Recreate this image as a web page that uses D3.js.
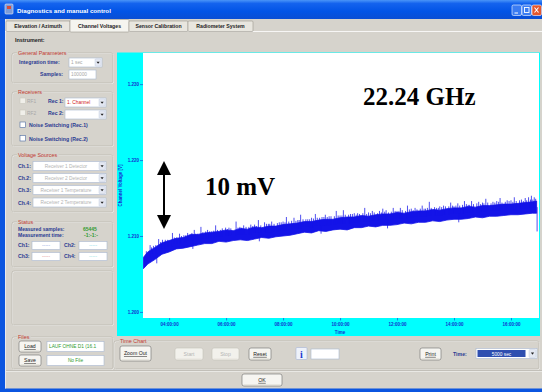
<!DOCTYPE html>
<html><head><meta charset="utf-8">
<script src="https://cdn.jsdelivr.net/npm/d3@7/dist/d3.min.js"></script>
<style>
html,body{margin:0;padding:0;background:#d6d3cc;overflow:hidden}
svg{display:block}
</style></head><body>
<svg id="chart" width="542" height="392"></svg>
<script>
// ---------------- data ----------------
const tabLabels = ["Elevation / Azimuth", "Channel Voltages", "Sensor Calibration", "Radiometer System"];
const timeTickMinutes = [240, 360, 480, 600, 720, 840, 960];
const timeTickLabels = ["04:00:00", "06:00:00", "08:00:00", "10:00:00", "12:00:00", "14:00:00", "16:00:00"];
const voltTicks = [1.200, 1.210, 1.220, 1.230];
const voltTickLabels = ["1.200", "1.210", "1.220", "1.230"];

// measured trace: envelope of the noisy channel voltage (minutes since midnight, volts)
const sampleMinutes = [186,195,210,225,240,255,270,285,300,315,330,345,360,375,390,405,420,435,450,465,480,495,510,525,540,555,570,585,600,615,630,645,660,675,690,705,720,735,750,765,780,795,810,825,840,855,870,885,900,915,930,945,960,975,990,1005,1014];
const upperVolts = [1.2072,1.2079,1.2085,1.2091,1.2094,1.2097,1.2098,1.2102,1.2102,1.2104,1.2105,1.2106,1.2108,1.2107,1.2110,1.2109,1.2112,1.2111,1.2113,1.2113,1.2115,1.2116,1.2117,1.2119,1.2119,1.2121,1.2122,1.2122,1.2124,1.2125,1.2125,1.2127,1.2126,1.2128,1.2129,1.2129,1.2131,1.2130,1.2132,1.2133,1.2133,1.2135,1.2134,1.2136,1.2137,1.2137,1.2139,1.2138,1.2140,1.2140,1.2141,1.2142,1.2142,1.2143,1.2144,1.2145,1.2146];
const lowerVolts = [1.2057,1.2063,1.2069,1.2076,1.2079,1.2083,1.2084,1.2086,1.2088,1.2090,1.2090,1.2093,1.2092,1.2094,1.2095,1.2094,1.2096,1.2098,1.2097,1.2099,1.2100,1.2101,1.2103,1.2105,1.2104,1.2107,1.2106,1.2108,1.2109,1.2108,1.2111,1.2111,1.2113,1.2112,1.2114,1.2114,1.2115,1.2117,1.2116,1.2118,1.2118,1.2120,1.2119,1.2121,1.2122,1.2122,1.2123,1.2125,1.2124,1.2126,1.2126,1.2127,1.2128,1.2128,1.2129,1.2130,1.2130];
// noise spikes (minutes, volts)
const spikeMinutes = [192,200,207,218,226,232,247,256,262,271,279,293,300,307,321,329,338,352,359,366,381,389,397,412,420,428,441,449,456,472,480,487,503,511,517,532,540,548,562,569,577,592,600,607,622,630,637,652,660,668,683,690,697,712,720,727,742,750,758,773,780,788,803,810,818,833,840,848,862,870,877,892,900,907,922,930,937,952,960,967,982,990,997,1003,1009,
  203,212,222,237,251,266,275,288,296,311,317,325,334,342,348,363,370,385,393,402,408,416,424,433,445,452,461,468,476,484,492,498,507,514,522,528,536,544,552,557,566,573,581,588,596,604,611,618,626,634,641,648,656,664,672,679,687,694,702,708,716,724,731,738,746,754,762,769,777,784,792,799,807,814,822,829,837,844,852,858,866,873,881,888,896,903,911,918,926,934,941,948,956,964,971,978,986,993,1001,1006,1012,
  214,290,430,560,700,850,1015];
const spikeVolts = [1.2080,1.2088,1.2087,1.2096,1.2095,1.2095,1.2104,1.2098,1.2103,1.2101,1.2104,1.2108,1.2103,1.2112,1.2108,1.2106,1.2114,1.2110,1.2111,1.2111,1.2119,1.2112,1.2114,1.2115,1.2115,1.2121,1.2118,1.2116,1.2119,1.2118,1.2119,1.2125,1.2124,1.2121,1.2128,1.2122,1.2124,1.2129,1.2125,1.2128,1.2126,1.2133,1.2127,1.2134,1.2129,1.2130,1.2130,1.2137,1.2131,1.2133,1.2133,1.2136,1.2134,1.2137,1.2133,1.2137,1.2140,1.2136,1.2137,1.2140,1.2136,1.2145,1.2137,1.2139,1.2140,1.2144,1.2139,1.2143,1.2146,1.2141,1.2146,1.2145,1.2144,1.2149,1.2145,1.2146,1.2150,1.2147,1.2147,1.2151,1.2148,1.2150,1.2151,1.2153,1.2151,
  1.2085,1.2088,1.2092,1.2095,1.2098,1.2100,1.2101,1.2104,1.2103,1.2105,1.2106,1.2106,1.2107,1.2108,1.2108,1.2109,1.2110,1.2111,1.2111,1.2112,1.2112,1.2113,1.2113,1.2114,1.2116,1.2116,1.2116,1.2117,1.2118,1.2118,1.2119,1.2120,1.2120,1.2121,1.2122,1.2122,1.2122,1.2123,1.2124,1.2124,1.2125,1.2125,1.2126,1.2126,1.2127,1.2127,1.2128,1.2128,1.2129,1.2128,1.2129,1.2130,1.2129,1.2130,1.2131,1.2130,1.2131,1.2132,1.2131,1.2132,1.2133,1.2133,1.2134,1.2133,1.2135,1.2134,1.2135,1.2136,1.2136,1.2137,1.2137,1.2138,1.2137,1.2138,1.2139,1.2139,1.2140,1.2140,1.2140,1.2141,1.2142,1.2141,1.2142,1.2143,1.2142,1.2143,1.2144,1.2143,1.2144,1.2145,1.2144,1.2145,1.2146,1.2145,1.2146,1.2147,1.2146,1.2147,1.2148,1.2148,1.2149,
  1.2064,1.2083,1.2093,1.2103,1.2110,1.2118,1.2106];

// ---------------- drawing ----------------
const W = 542, H = 392;
const svg = d3.select("#chart");
const SANS = "'Liberation Sans', Arial, sans-serif";
const SERIF = "'Liberation Serif', 'Times New Roman', serif";
const BLUE_LBL = "#2a3a92", RED_LBL = "#c23a32", GREEN = "#2f9a2f", GRAYTXT = "#a8a8a8";
const AXIS = "#1530d0";

function T(x, y, s, o = {}) {
  return svg.append("text").attr("x", x).attr("y", y).text(s)
    .attr("font-size", o.size || 5.2).attr("font-weight", o.weight || "bold")
    .attr("fill", o.fill || BLUE_LBL).attr("text-anchor", o.anchor || "start")
    .attr("font-family", o.family || SANS);
}
function R(x, y, w, h, fill, stroke, sw, rx) {
  return svg.append("rect").attr("x", x).attr("y", y).attr("width", w).attr("height", h)
    .attr("fill", fill || "none").attr("stroke", stroke || "none").attr("stroke-width", sw || 0).attr("rx", rx || 0);
}
function group(x, y, w, h, label) {
  R(x + 0.5, y + 0.5, w, h, "none", "#ffffff", 0.6, 2);
  R(x, y, w, h, "none", "#b4b0a6", 0.6, 2);
  if (label) {
    const t = T(x + 6, y + 2, label, { fill: RED_LBL, weight: "normal", size: 5.4 });
    const bb = t.node().getBBox();
    svg.insert("rect", () => t.node()).attr("x", bb.x - 1).attr("y", bb.y).attr("width", bb.width + 2).attr("height", bb.height).attr("fill", "#d6d3cc");
  }
}
function button(x, y, w, h, label, disabled) {
  R(x, y, w, h, disabled ? "#f2f1ec" : "#f6f5f1", disabled ? "#c4c2bb" : "#6d6d6d", 0.6, 2);
  svg.append("line").attr("x1", x + 1.5).attr("x2", x + w - 1.5).attr("y1", y + h - 1).attr("y2", y + h - 1).attr("stroke", disabled ? "#e2e0d8" : "#d4d1c6").attr("stroke-width", 0.8);
  T(x + w / 2, y + h / 2 + 1.9, label, { anchor: "middle", fill: disabled ? "#b5b5b5" : "#222222", weight: "normal", size: 5.2 })
    .attr("text-decoration", disabled ? null : "underline");
}
function textbox(x, y, w, h, label, color, anchor) {
  R(x, y, w, h, "#ffffff", "#a9b8d0", 0.6);
  if (label) T(anchor === "middle" ? x + w / 2 : x + 2, y + h / 2 + 1.8, label, { fill: color || GRAYTXT, weight: "normal", size: 4.8, anchor: anchor || "start" });
}
function combo(x, y, w, h, label, color, anchor) {
  R(x, y, w, h, "#ffffff", "#a9b8d0", 0.6);
  R(x + w - 7, y + 0.8, 6.2, h - 1.6, "#e4e8f2", "#b8c4dc", 0.4, 1);
  const cx = x + w - 3.9, cy = y + h / 2;
  svg.append("path").attr("d", `M${cx - 1.6},${cy - 0.8}L${cx + 1.6},${cy - 0.8}L${cx},${cy + 1.2}Z`).attr("fill", "#222");
  if (label) T(anchor === "middle" ? x + (w - 7) / 2 : x + 2, y + h / 2 + 1.8, label, { fill: color || GRAYTXT, weight: "normal", size: 4.8, anchor: anchor || "start" });
}
function checkbox(x, y, disabled) {
  R(x, y, 5.5, 5.5, disabled ? "#f0efea" : "#ffffff", disabled ? "#c9c6bd" : "#4a6aa0", 0.6);
}

// window background & frame
svg.append("rect").attr("width", W).attr("height", H).attr("fill", "#d6d3cc");
const defs = svg.append("defs");
const tg = defs.append("linearGradient").attr("id", "tb").attr("x1", 0).attr("x2", 0).attr("y1", 0).attr("y2", 1);
[[0, "#4a95f8"], [0.18, "#1463ee"], [0.6, "#0254e6"], [1, "#0a4ed4"]].forEach(([o, c]) => tg.append("stop").attr("offset", o).attr("stop-color", c));
svg.append("rect").attr("width", W).attr("height", 19).attr("fill", "url(#tb)");
svg.append("rect").attr("x", 0).attr("y", 19).attr("width", 5).attr("height", H - 19).attr("fill", "#0b55e0");
svg.append("rect").attr("x", 0).attr("y", H - 3.5).attr("width", W).attr("height", 3.5).attr("fill", "#0b55e0");
svg.append("line").attr("x1", 5.5).attr("x2", 5.5).attr("y1", 19).attr("y2", H - 3.5).attr("stroke", "#eef0f6").attr("stroke-width", 0.8);

// title bar
R(5, 4, 8, 10, "#7b9bd8", "#e9eef8", 0.6, 1);
R(7, 6, 4, 3, "#d84d3a");
T(17, 12.5, "Diagnostics and manual control", { fill: "#ffffff", size: 6.2 });
[[512, "#3b7cf2"], [522, "#3b7cf2"], [532, "#e4572e"]].forEach(([bx, c]) => R(bx, 5, 9.5, 10.5, c, "#ffffff", 0.6, 1.5));
svg.append("line").attr("x1", 514.5).attr("x2", 518).attr("y1", 13).attr("y2", 13).attr("stroke", "#fff").attr("stroke-width", 1);
R(524.5, 7.5, 4.5, 5, "none", "#fff", 0.9);
svg.append("path").attr("d", "M534.5,7.5L538.5,12.5M538.5,7.5L534.5,12.5").attr("stroke", "#fff").attr("stroke-width", 1.1);

// tabs
svg.append("line").attr("x1", 5).attr("x2", W).attr("y1", 31.5).attr("y2", 31.5).attr("stroke", "#ffffff").attr("stroke-width", 0.8);
const tabX = [6, 70, 129, 188, 253];
tabLabels.forEach((lab, i) => {
  const sel = i === 1;
  R(tabX[i], sel ? 19.5 : 21, tabX[i + 1] - tabX[i], sel ? 12.5 : 10.5, sel ? "#f5f4ef" : "#e8e6df", "#9a978f", 0.6, 1);
  T((tabX[i] + tabX[i + 1]) / 2, 27.8, lab, { anchor: "middle", fill: "#222", size: 5.2 });
});
T(15, 42, "Instrument:", { fill: "#222", size: 5.4 });

// left panel
group(12, 53, 101, 30, "General Parameters");
T(19, 64, "Integration time:");
combo(69, 58, 33, 9, "1 sec");
T(40, 76, "Samples:");
textbox(69, 70, 27, 9, "100000");

group(12, 92, 101, 54, "Receivers");
checkbox(20, 98, true); T(27, 103, "RF1", { fill: GRAYTXT, weight: "normal", size: 4.8 });
T(48, 103, "Rec 1:"); combo(65, 98, 41, 9, "1. Channel", "#d02020");
checkbox(20, 110, true); T(27, 115, "RF2", { fill: GRAYTXT, weight: "normal", size: 4.8 });
T(48, 115, "Rec 2:"); combo(65, 110, 41, 9, "");
checkbox(20, 122); T(29, 127, "Noise Switching (Rec.1)");
checkbox(20, 135.5); T(29, 140.5, "Noise Switching (Rec.2)");

group(12, 155, 101, 57, "Voltage Sources");
[["Ch.1:", "Receiver 1 Detector", 166], ["Ch.2:", "Receiver 2 Detector", 178], ["Ch.3:", "Receiver 1 Temperature", 190], ["Ch.4:", "Receiver 2 Temperature", 202.5]].forEach(([l, v, yc]) => {
  T(18, yc + 2, l);
  combo(33, yc - 4.5, 73, 9, v, "#b4b4b4", "middle");
});

group(12, 222, 101, 45, "Status");
T(18, 231, "Measured samples:", { size: 5 }); T(83, 231, "65445", { fill: GREEN, size: 5 });
T(18, 237, "Measurement time:", { size: 5 }); T(84, 237, "-1:-1:-", { fill: GREEN, size: 5 });
T(18, 247, "Ch1:"); textbox(32, 241.5, 28, 8, "-----", "#8aa0e0", "middle");
T(64, 247, "Ch2:"); textbox(79, 241.5, 28, 8, "-----", "#7fd8e8", "middle");
T(18, 258, "Ch3:"); textbox(32, 252.5, 28, 8, "-----", "#e08a8a", "middle");
T(64, 258, "Ch4:"); textbox(79, 252.5, 28, 8, "-----", "#8ae0e0", "middle");

group(12, 271, 101, 54, null);

// bottom controls
group(12, 337, 101, 32, "Files");
button(19, 341, 22, 11, "Load");
textbox(47, 341.5, 57, 10, "LAUF OHNE D1 (16.1", GREEN);
button(19, 355, 22, 11, "Save");
textbox(47, 355.5, 57, 10, "No File", GREEN, "middle");

group(114, 341, 425, 28, "Time Chart");
button(120, 346, 31, 15, "Zoom Out");
button(175, 348, 28, 12, "Start", true);
button(212, 348, 27, 12, "Stop", true);
button(249, 348, 22, 12, "Reset");
R(296, 347.5, 11, 12, "#eef2fa", "#9aaad0", 0.5, 1);
T(301.5, 357.5, "i", { fill: "#1a3ad0", size: 10, anchor: "middle", family: SERIF });
textbox(311, 349, 28, 10, "");
button(420, 348, 21, 12, "Print");
T(453, 356, "Time:");
R(476, 348.5, 61, 10, "#ffffff", "#a9b8d0", 0.6);
R(477.5, 350, 48, 7, "#2f4fb0");
T(501.5, 355.5, "5000 sec", { fill: "#ffffff", size: 4.8, anchor: "middle", weight: "normal" });
R(529, 349.5, 7, 8, "#e4e8f2", "#b8c4dc", 0.4, 1);
svg.append("path").attr("d", "M530.9,352.6L534.1,352.6L532.5,354.8Z").attr("fill", "#222");

svg.append("line").attr("x1", 6).attr("x2", W).attr("y1", 370.5).attr("y2", 370.5).attr("stroke", "#a8a59c").attr("stroke-width", 0.6);
svg.append("line").attr("x1", 6).attr("x2", W).attr("y1", 371.3).attr("y2", 371.3).attr("stroke", "#ffffff").attr("stroke-width", 0.6);
button(242, 374, 40, 12, "OK");

// ---------------- chart ----------------
const plot = { left: 143, right: 539, top: 53, bottom: 318 };
svg.append("rect").attr("x", 117).attr("y", 52.5).attr("width", 423).attr("height", 283.5).attr("fill", "#00ffff");
svg.append("rect").attr("x", plot.left).attr("y", plot.top).attr("width", plot.right - plot.left).attr("height", plot.bottom - plot.top).attr("fill", "#ffffff");

const x = d3.scaleLinear().domain([185, 1019]).range([plot.left, plot.right]);
const y = d3.scaleLinear().domain([1.1992, 1.2341]).range([plot.bottom, plot.top]);

defs.append("clipPath").attr("id", "clip").append("rect")
  .attr("x", plot.left).attr("y", plot.top).attr("width", plot.right - plot.left).attr("height", plot.bottom - plot.top);

const yAxis = d3.axisLeft(y).tickValues(voltTicks).tickFormat((d, i) => voltTickLabels[i]).tickSize(3).tickPadding(1);
svg.append("g").attr("transform", `translate(${plot.left},0)`).call(yAxis).call(g => {
  g.select(".domain").remove();
  g.selectAll("line").attr("stroke", AXIS).attr("stroke-width", 0.6);
  g.selectAll("text").attr("fill", AXIS).attr("font-size", 4.5).attr("font-family", SANS).attr("font-weight", "bold");
});
const xAxis = d3.axisBottom(x).tickValues(timeTickMinutes).tickFormat((d, i) => timeTickLabels[i]).tickSize(2.5).tickPadding(2);
svg.append("g").attr("transform", `translate(0,${plot.bottom})`).call(xAxis).call(g => {
  g.select(".domain").remove();
  g.selectAll("line").attr("stroke", AXIS).attr("stroke-width", 0.6);
  g.selectAll("text").attr("fill", AXIS).attr("font-size", 4.5).attr("font-family", SANS).attr("font-weight", "bold");
});
T(x(600), 334, "Time", { fill: AXIS, size: 4.5, anchor: "middle" });
T(0, 0, "Channel Voltage [V]", { fill: AXIS, size: 4.5, anchor: "middle" })
  .attr("transform", `translate(122,${(plot.top + plot.bottom) / 2}) rotate(-90)`);

const trace = sampleMinutes.map((m, i) => ({ m, hi: upperVolts[i], lo: lowerVolts[i] }));
const dataG = svg.append("g").attr("clip-path", "url(#clip)");
dataG.append("path").datum(trace)
  .attr("d", d3.area().x(d => x(d.m)).y0(d => y(d.lo)).y1(d => y(d.hi)))
  .attr("fill", "#1414e8").attr("stroke", "#1414e8").attr("stroke-width", 0.8);
const bis = d3.bisector(d => d.m).center;
dataG.selectAll("line.sp").data(spikeMinutes.map((m, i) => ({ m, v: spikeVolts[i] }))).join("line")
  .attr("class", "sp")
  .attr("x1", d => x(d.m)).attr("x2", d => x(d.m))
  .attr("y1", d => { const t = trace[bis(trace, d.m)]; return y((t.hi + t.lo) / 2); })
  .attr("y2", d => y(d.v))
  .attr("stroke", "#1414e8").attr("stroke-width", 0.75);

// annotations
T(363, 105, "22.24 GHz", { fill: "#000", size: 25, family: SERIF });
T(205, 195, "10 mV", { fill: "#000", size: 25, family: SERIF });
svg.append("line").attr("x1", 164).attr("x2", 164).attr("y1", 172).attr("y2", 218).attr("stroke", "#000").attr("stroke-width", 2);
svg.append("path").attr("d", "M164,161L157,175L171,175Z").attr("fill", "#000");
svg.append("path").attr("d", "M164,229L157,215L171,215Z").attr("fill", "#000");
</script></body></html>
